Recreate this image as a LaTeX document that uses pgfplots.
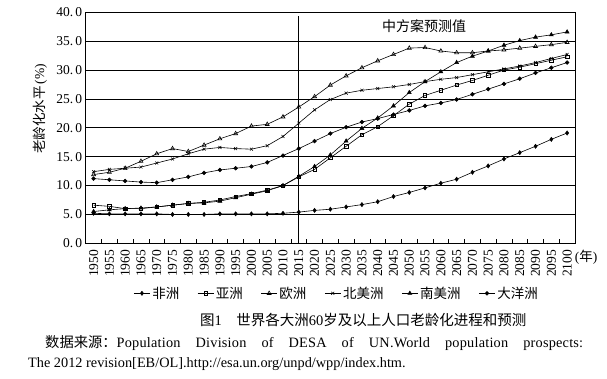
\documentclass[border=0pt]{standalone}
\usepackage{fontspec}
\setmainfont{Liberation Serif}
\newfontfamily\cjk{Noto Sans CJK SC}
\usepackage{pgfplots}
\usepackage{pgfplotstable}
\pgfplotsset{compat=1.18}

\pgfplotstableread{
year af as eu na sa oc
1950 5.2 6.6 11.9 12.4 5.5 11.2
1955 5.1 6.4 12.3 12.8 5.8 11.0
1960 5.1 6.0 13.0 13.0 6.0 10.8
1965 5.1 6.0 14.2 13.2 6.1 10.6
1970 5.1 6.3 15.5 13.9 6.3 10.5
1975 5.0 6.6 16.4 14.6 6.6 11.0
1980 5.0 6.9 15.9 15.5 6.9 11.5
1985 5.0 7.1 17.0 16.3 7.0 12.2
1990 5.1 7.5 18.1 16.6 7.3 12.7
1995 5.1 8.1 19.0 16.4 7.9 13.0
2000 5.1 8.6 20.3 16.3 8.5 13.3
2005 5.1 9.2 20.6 16.9 9.1 14.0
2010 5.2 10.0 21.9 18.5 10.0 15.2
2015 5.4 11.5 23.6 20.8 11.6 16.4
2020 5.7 12.8 25.4 23.1 13.3 17.7
2025 5.9 14.8 27.4 24.9 15.3 19.0
2030 6.3 16.8 29.0 26.0 17.7 20.1
2035 6.7 18.8 30.4 26.5 19.9 21.0
2040 7.2 20.2 31.6 26.8 21.7 21.6
2045 8.1 22.1 32.7 27.1 23.8 22.3
2050 8.8 24.1 33.8 27.5 26.1 23.0
2055 9.6 25.6 33.9 28.0 28.0 23.8
2060 10.4 26.5 33.3 28.4 29.7 24.3
2065 11.1 27.4 33.0 28.7 31.3 24.9
2070 12.3 28.2 33.0 29.2 32.4 25.8
2075 13.4 29.1 33.3 29.7 33.3 26.7
2080 14.6 30.0 33.5 30.2 34.3 27.6
2085 15.7 30.5 33.8 30.7 35.1 28.5
2090 16.8 31.1 34.1 31.3 35.7 29.5
2095 18.0 31.7 34.4 32.0 36.1 30.4
2100 19.1 32.3 34.8 32.7 36.6 31.3
}\data

\begin{document}
\begin{tikzpicture}[x=1pt,y=1pt]
\begin{axis}[
  at={(0,0)}, anchor=south west,
  scale only axis, width=489.3pt, height=231pt,
  xmin=1947.5, xmax=2102.5, ymin=0, ymax=40,
  axis line style={black, line width=0.7pt},
  xtick={1950,1955,...,2100},
  minor xtick={1952.5,1957.5,...,2097.5},
  ytick={0,5,...,40},
  yticklabels={0.\,0,5.\,0,10.\,0,15.\,0,20.\,0,25.\,0,30.\,0,35.\,0,40.\,0},
  xtick pos=lower, ytick pos=left,
  major tick length=0pt, minor tick length=4pt,
  tick align=inside,
  minor tick style={black, line width=0.6pt},
  ymajorgrids, grid style={black, line width=0.7pt},
  /pgf/number format/assume math mode=true,
  /pgf/number format/1000 sep={},
  xticklabel style={rotate=90, anchor=east, font=\fontsize{13.5}{14}\selectfont},
  xticklabel shift=3pt,
  yticklabel style={font=\fontsize{13.5}{14}\selectfont},
  legend columns=6,
  legend style={draw=none, fill=none, at={(axis description cs:0.513,-0.2165)}, anchor=center,
    font=\fontsize{13.5}{15}\selectfont\cjk, inner sep=0pt,
    /tikz/every even column/.append style={column sep=16pt}},
  legend image code/.code={\draw[mark repeat=2,mark phase=2,#1] plot coordinates {(0pt,0pt) (8pt,0pt) (16pt,0pt)};},
  every axis plot/.append style={black, line width=0.6pt, mark options={solid, line width=0.5pt}},
  clip=false,
]
\addplot[mark=diamond*, mark size=2.1pt] table[x=year,y=af] {\data};
\addlegendentry{非洲}
\addplot[mark=square, mark size=1.7pt, mark options={fill=white}] table[x=year,y=as] {\data};
\addlegendentry{亚洲}
\addplot[mark=triangle, mark size=2.3pt, mark options={fill=white}] table[x=year,y=eu] {\data};
\addlegendentry{欧洲}
\addplot[mark=x, mark size=2.1pt] table[x=year,y=na] {\data};
\addlegendentry{北美洲}
\addplot[mark=triangle*, mark size=2.3pt] table[x=year,y=sa] {\data};
\addlegendentry{南美洲}
\addplot[mark=*, mark size=1.9pt] table[x=year,y=oc] {\data};
\addlegendentry{大洋洲}
\draw[black, line width=0.8pt] (axis cs:2015,0) -- (axis cs:2015,39.3);
\end{axis}
\node[font=\fontsize{14}{16}\selectfont\cjk] at (338.3,216.8) {中方案预测值};
\node[font=\fontsize{13.5}{15}\selectfont, rotate=90] at (-45.7,134.3) {{\cjk 老龄化水平}\,(\%)};
\node[font=\fontsize{13.5}{15}\selectfont] at (500.3,-13.7) {({\cjk 年})};
\node[font=\fontsize{14.5}{16}\selectfont] at (277.6,-76.7) {{\cjk 图}1\quad{\cjk 世界各大洲}60{\cjk 岁及以上人口老龄化进程和预测}};
\node[font=\fontsize{14.3}{16}\selectfont, anchor=west, inner sep=0pt] at (-40.7,-99.7) {\makebox[538pt][s]{{\cjk 数据来源：}\addfontfeature{LetterSpace=1.5}Population Division of DESA of UN.World population prospects:}};
\node[font=\fontsize{14.3}{16}\selectfont, anchor=west, inner sep=0pt] at (-57.7,-120.7) {The 2012 revision[EB/OL].http://esa.un.org/unpd/wpp/index.htm.};
\pgfresetboundingbox
\path[use as bounding box] (-85.7,-134.7) rectangle (521.3,243.3);
\end{tikzpicture}
\end{document}
